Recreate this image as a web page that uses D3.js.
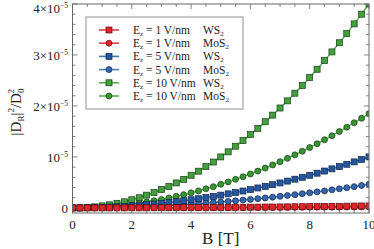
<!DOCTYPE html>
<html>
<head>
<meta charset="utf-8">
<script src="https://cdn.jsdelivr.net/npm/d3@7"></script>
<style>
  body { margin: 0; background: #fff; }
  text { font-family: "Liberation Serif", "DejaVu Serif", serif; fill: #222; }
</style>
</head>
<body>
<svg width="374" height="249"></svg>
<script>
// magnetic field B [T]
const bField = [0, 0.25, 0.5, 0.75, 1, 1.25, 1.5, 1.75, 2, 2.25, 2.5, 2.75, 3, 3.25, 3.5, 3.75, 4, 4.25, 4.5, 4.75,
  5, 5.25, 5.5, 5.75, 6, 6.25, 6.5, 6.75, 7, 7.25, 7.5, 7.75, 8, 8.25, 8.5, 8.75, 9, 9.25, 9.5, 9.75, 10];

// |D_R|^2/D_0^2 in units of 1e-5
const ws2E1 = [0, 0, 0.0001, 0.0002, 0.0004, 0.0006, 0.0009, 0.0012, 0.0016, 0.002, 0.0025, 0.003, 0.0036, 0.0042, 0.0049, 0.0056, 0.0064, 0.0072, 0.0081, 0.009,
  0.01, 0.011, 0.0121, 0.0132, 0.0144, 0.0156, 0.0169, 0.0182, 0.0196, 0.021, 0.0225, 0.024, 0.0256, 0.0272, 0.0289, 0.0306, 0.0324, 0.0342, 0.0361, 0.038, 0.04];
const mos2E1 = [0, 0, 0.0001, 0.0001, 0.0002, 0.0003, 0.0004, 0.0006, 0.0007, 0.0009, 0.0012, 0.0014, 0.0017, 0.002, 0.0023, 0.0026, 0.003, 0.0033, 0.0037, 0.0042,
  0.0046, 0.0051, 0.0056, 0.0061, 0.0067, 0.0072, 0.0078, 0.0084, 0.0091, 0.0097, 0.0104, 0.0111, 0.0118, 0.0126, 0.0134, 0.0142, 0.015, 0.0158, 0.0167, 0.0176, 0.0185];
const ws2E5 = [0, 0.001, 0.003, 0.006, 0.01, 0.016, 0.023, 0.031, 0.04, 0.051, 0.063, 0.076, 0.09, 0.106, 0.123, 0.141, 0.16, 0.181, 0.203, 0.226,
  0.25, 0.276, 0.303, 0.331, 0.36, 0.391, 0.423, 0.456, 0.49, 0.526, 0.563, 0.601, 0.64, 0.681, 0.723, 0.766, 0.81, 0.856, 0.903, 0.951, 1.0];
const mos2E5 = [0, 0, 0.001, 0.003, 0.005, 0.007, 0.010, 0.014, 0.019, 0.023, 0.029, 0.035, 0.042, 0.049, 0.057, 0.065, 0.074, 0.084, 0.094, 0.104,
  0.116, 0.127, 0.140, 0.153, 0.167, 0.181, 0.195, 0.211, 0.227, 0.243, 0.260, 0.278, 0.296, 0.315, 0.334, 0.354, 0.375, 0.396, 0.417, 0.440, 0.463];
const ws2E10 = [0, 0, 0.01, 0.02, 0.04, 0.06, 0.09, 0.12, 0.16, 0.20, 0.25, 0.30, 0.36, 0.42, 0.49, 0.56, 0.64, 0.72, 0.81, 0.90,
  1.00, 1.10, 1.21, 1.32, 1.44, 1.56, 1.69, 1.82, 1.96, 2.10, 2.25, 2.40, 2.56, 2.72, 2.89, 3.06, 3.24, 3.42, 3.61, 3.80, 4.00];
const mos2E10 = [0, 0.001, 0.005, 0.010, 0.019, 0.029, 0.042, 0.057, 0.074, 0.094, 0.116, 0.140, 0.167, 0.195, 0.227, 0.260, 0.296, 0.334, 0.375, 0.417,
  0.463, 0.510, 0.560, 0.612, 0.666, 0.723, 0.782, 0.843, 0.907, 0.972, 1.041, 1.111, 1.184, 1.259, 1.337, 1.416, 1.499, 1.583, 1.670, 1.759, 1.850];

const fieldLabels = ["1", "1", "5", "5", "10", "10"];
const materials = ["WS", "MoS", "WS", "MoS", "WS", "MoS"];
const xTicks = [0, 2, 4, 6, 8, 10];
const yTicks = [0, 1, 2, 3, 4];
const yTickPrefix = ["0", "", "2×", "3×", "4×"];

const series = [
  { vals: ws2E1, line: "#ec3b42", fill: "#e0242a", edge: "#5a0c0c", shape: "square" },
  { vals: mos2E1, line: "#ec3b42", fill: "#e0242a", edge: "#5a0c0c", shape: "circle" },
  { vals: ws2E5, line: "#3f74b8", fill: "#2457a0", edge: "#0e2448", shape: "square" },
  { vals: mos2E5, line: "#4a80c2", fill: "#3467ad", edge: "#0e2448", shape: "circle" },
  { vals: ws2E10, line: "#55b04f", fill: "#43a03c", edge: "#143d12", shape: "square" },
  { vals: mos2E10, line: "#55b04f", fill: "#3a9434", edge: "#143d12", shape: "circle" }
];

const svg = d3.select("svg");
const pL = 72.5, pR = 369, pT = 4, pB = 213;

const x = d3.scaleLinear().domain([0, 10]).range([pL, pR]);
const y = d3.scaleLinear().domain([-0.1, 4]).range([pB, pT]);

svg.append("defs").append("clipPath").attr("id", "clip")
  .append("rect").attr("x", pL).attr("y", pT).attr("width", pR - pL).attr("height", pB - pT);

const line = d3.line().x((d, i) => x(bField[i])).y(d => y(d));

function marker(g, shape, cx, cy, s) {
  if (shape === "square") {
    return g.append("rect").attr("x", cx - 3).attr("y", cy - 3).attr("width", 6).attr("height", 6)
      .attr("fill", s.fill).attr("stroke", s.edge).attr("stroke-width", 0.7);
  }
  return g.append("circle").attr("cx", cx).attr("cy", cy).attr("r", 3)
    .attr("fill", s.fill).attr("stroke", s.edge).attr("stroke-width", 0.7);
}

// draw last series first so the red ones sit on top
const data = svg.append("g").attr("clip-path", "url(#clip)");
series.slice().reverse().forEach(s => {
  data.append("path").attr("d", line(s.vals)).attr("fill", "none")
    .attr("stroke", s.line).attr("stroke-width", 1.4);
  s.vals.forEach((v, i) => marker(data, s.shape, x(bField[i]), y(v), s));
});

// frame
svg.append("rect").attr("x", pL).attr("y", pT).attr("width", pR - pL).attr("height", pB - pT)
  .attr("fill", "none").attr("stroke", "#666").attr("stroke-width", 1);

// ticks (inward, on all four sides)
const tickG = svg.append("g").attr("stroke", "#666").attr("stroke-width", 0.8);
d3.range(0, 10.01, 0.5).forEach(t => {
  const len = xTicks.includes(t) ? 5 : 3;
  tickG.append("line").attr("x1", x(t)).attr("x2", x(t)).attr("y1", pB).attr("y2", pB - len);
  tickG.append("line").attr("x1", x(t)).attr("x2", x(t)).attr("y1", pT).attr("y2", pT + len);
});
d3.range(0, 4.01, 0.2).forEach(t => {
  const len = Math.abs(t - Math.round(t)) < 1e-6 ? 5 : 3;
  tickG.append("line").attr("y1", y(t)).attr("y2", y(t)).attr("x1", pL).attr("x2", pL + len);
  tickG.append("line").attr("y1", y(t)).attr("y2", y(t)).attr("x1", pR).attr("x2", pR - len);
});

// tick labels
svg.append("g").selectAll("text").data(xTicks).enter().append("text")
  .attr("x", d => x(d)).attr("y", 229).attr("text-anchor", "middle")
  .attr("font-size", 13).text(d => d);

const yl = svg.append("g").selectAll("text").data(yTicks).enter().append("text")
  .attr("x", 68).attr("y", d => Math.max(y(d) + 5, 13)).attr("text-anchor", "end").attr("font-size", 13);
yl.each(function(d, i) {
  const t = d3.select(this);
  if (d === 0) { t.text("0"); return; }
  t.append("tspan").text(yTickPrefix[i] + "10");
  t.append("tspan").attr("dy", -5).attr("font-size", 7.5).text("−5");
});

// axis titles
svg.append("text").attr("x", x(5)).attr("y", 244).attr("text-anchor", "middle")
  .attr("font-size", 17).text("B [T]");

const yt = svg.append("text").attr("transform", "translate(21,112) rotate(-90)")
  .attr("text-anchor", "middle").attr("font-size", 15);
yt.append("tspan").text("|D");
yt.append("tspan").attr("dy", 3).attr("font-size", 9).text("R");
yt.append("tspan").attr("dy", -3).text("|");
yt.append("tspan").attr("dy", -7).attr("font-size", 9).text("2");
yt.append("tspan").attr("dy", 7).text("/D");
yt.append("tspan").attr("dy", 3).attr("font-size", 9).text("0");
yt.append("tspan").attr("dy", -10).attr("dx", -5).attr("font-size", 9).text("2");

// legend
const lg = svg.append("g");
lg.append("rect").attr("x", 86).attr("y", 17).attr("width", 157).attr("height", 92)
  .attr("fill", "#fff").attr("stroke", "#aaa").attr("stroke-width", 1.3);
series.forEach((s, i) => {
  const ly = 30 + i * 13.2;
  lg.append("line").attr("x1", 99).attr("x2", 119).attr("y1", ly).attr("y2", ly)
    .attr("stroke", s.line).attr("stroke-width", 1.6);
  marker(lg, s.shape, 109, ly, s);
  const t = lg.append("text").attr("x", 133).attr("y", ly + 4).attr("font-size", 11.5);
  t.append("tspan").text("E");
  t.append("tspan").attr("dy", 2).attr("font-size", 7).text("z");
  t.append("tspan").attr("dy", -2).text(" = " + fieldLabels[i] + " V/nm");
  const m = lg.append("text").attr("x", 203).attr("y", ly + 4).attr("font-size", 11.5);
  m.append("tspan").text(materials[i]);
  m.append("tspan").attr("dy", 2).attr("font-size", 7).text("2");
});
</script>
</body>
</html>
